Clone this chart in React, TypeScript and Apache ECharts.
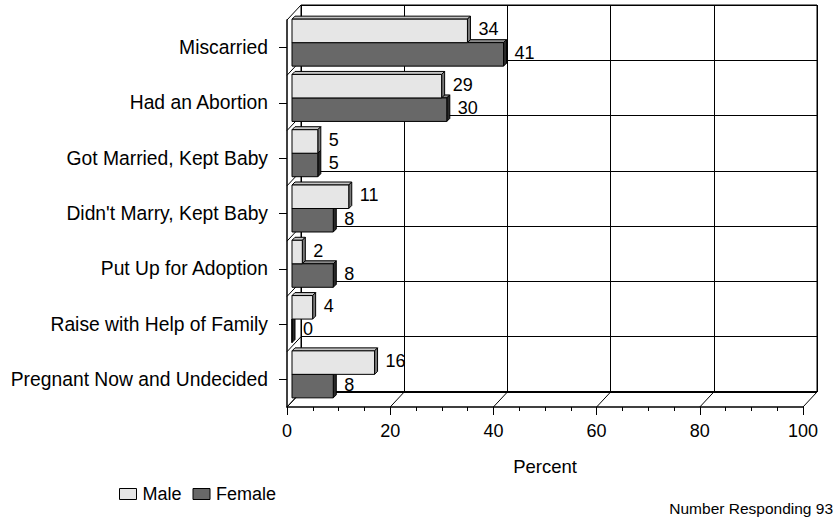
import React, { useEffect, useRef } from 'react';
import * as echarts from 'echarts';

const categories = [
  'Miscarried',
  'Had an Abortion',
  'Got Married, Kept Baby',
  "Didn't Marry, Kept Baby",
  'Put Up for Adoption',
  'Raise with Help of Family',
  'Pregnant Now and Undecided',
];
const maleValues = [34, 29, 5, 11, 2, 4, 16];
const femaleValues = [41, 30, 5, 8, 8, 0, 8];
const xTicks = [0, 20, 40, 60, 80, 100];
const seriesNames = ['Male', 'Female'];
const axisTitle = 'Percent';
const footnote = 'Number Responding 93';

const FONT = '"Liberation Sans", Arial, Helvetica, sans-serif';
const FRONT = { left: 287, top: 20, width: 516, height: 387 };
const DEPTH = { dx: 14, dy: 15 };
const BAR_SHIFT = { dx: 5, dy: 5 };
const BAR_3D = 3;

const STYLES = {
  Male: { face: '#e6e6e6', top: '#c4c4c4', side: '#7a7a7a' },
  Female: { face: '#686868', top: '#8a8a8a', side: '#2a2a2a' },
};

function makeRender(isMale: boolean, st: { face: string; top: string; side: string }) {
  return (_params: any, api: any) => {
    const v = api.value(0);
    const idx = api.value(1);
    const start = api.coord([0, idx]);
    const end = api.coord([v, idx]);
    const band = api.size([0, 1])[1];
    const h = band * 0.425;
    const cy = start[1];
    const y0 = isMale ? cy - h : cy;
    const x0 = start[0];
    const x1 = end[0];
    const d = BAR_3D;
    const stroke = { stroke: '#000', lineWidth: 1 };
    return {
      type: 'group',
      children: [
        {
          type: 'polygon',
          shape: { points: [[x0, y0], [x0 + d, y0 - d], [x1 + d, y0 - d], [x1, y0]] },
          style: { fill: st.top, ...stroke },
        },
        {
          type: 'polygon',
          shape: { points: [[x1, y0], [x1 + d, y0 - d], [x1 + d, y0 + h - d], [x1, y0 + h]] },
          style: { fill: st.side, ...stroke },
        },
        {
          type: 'rect',
          shape: { x: x0, y: y0, width: x1 - x0, height: h },
          style: { fill: st.face, ...stroke },
        },
        {
          type: 'text',
          style: {
            text: String(v),
            x: x1 + d + 8,
            y: y0 + h / 2 - 1.5,
            verticalAlign: 'middle',
            align: 'left',
            fontSize: 18,
            fontFamily: FONT,
            fill: '#000',
          },
        },
      ],
    };
  };
}

export default function App() {
  const ref = useRef<HTMLDivElement>(null);
  useEffect(() => {
    if (!ref.current) return;
    const chart = echarts.init(ref.current, undefined, { renderer: 'svg' });
    const back = {
      left: FRONT.left + DEPTH.dx,
      top: FRONT.top - DEPTH.dy,
      width: FRONT.width,
      height: FRONT.height,
    };
    const barGrid = {
      left: FRONT.left + BAR_SHIFT.dx,
      top: FRONT.top - BAR_SHIFT.dy,
      width: FRONT.width,
      height: FRONT.height,
    };
    const option: any = {
      animation: false,
      backgroundColor: '#fff',
      textStyle: { fontFamily: FONT },
      grid: [
        { ...back, show: true, borderColor: '#000', borderWidth: 1, backgroundColor: 'transparent' },
        { ...FRONT },
        { ...barGrid },
      ],
      legend: {
        data: seriesNames,
        left: 119,
        top: 485,
        padding: 0,
        icon: 'rect',
        itemWidth: 17,
        itemHeight: 11,
        itemGap: 11,
        itemStyle: { borderColor: '#000', borderWidth: 1 },
        textStyle: { fontSize: 18, color: '#000', fontFamily: FONT, padding: [0, 0, 0, 1] },
      },
      xAxis: [
        {
          gridIndex: 0, type: 'value', min: 0, max: 100, interval: 20,
          axisLine: { show: false }, axisTick: { show: false }, axisLabel: { show: false },
          splitLine: { show: true, lineStyle: { color: '#000', width: 1 } },
        },
        {
          gridIndex: 1, type: 'value', min: 0, max: 100, interval: 20,
          name: axisTitle, nameLocation: 'middle', nameGap: 50,
          nameTextStyle: { fontSize: 18.5, color: '#000', fontFamily: FONT },
          axisLine: { show: true, lineStyle: { color: '#000', width: 1.5 } },
          axisTick: { show: true, length: 8, lineStyle: { color: '#000' } },
          minorTick: { show: true, splitNumber: 4, length: 4, lineStyle: { color: '#000' } },
          axisLabel: { fontSize: 18, color: '#000', margin: 15, fontFamily: FONT },
          splitLine: { show: false },
        },
        {
          gridIndex: 2, type: 'value', min: 0, max: 100, show: false,
        },
      ],
      yAxis: [
        {
          gridIndex: 0, type: 'category', data: categories, inverse: true,
          axisLine: { show: false }, axisTick: { show: false }, axisLabel: { show: false },
          splitLine: { show: true, lineStyle: { color: '#000', width: 1 } },
        },
        {
          gridIndex: 1, type: 'category', data: categories, inverse: true,
          axisLine: { show: true, lineStyle: { color: '#000', width: 1.5 } },
          axisTick: { show: true, alignWithLabel: true, length: 8, lineStyle: { color: '#000' } },
          axisLabel: { fontSize: 19.3, color: '#000', margin: 19, fontFamily: FONT },
          splitLine: { show: false },
        },
        {
          gridIndex: 2, type: 'category', data: categories, inverse: true, show: false,
        },
      ],
      series: [
        {
          name: 'Female', type: 'custom', xAxisIndex: 2, yAxisIndex: 2, z: 3,
          itemStyle: { color: STYLES.Female.face, borderColor: '#000' },
          renderItem: makeRender(false, STYLES.Female),
          encode: { x: 0, y: 1 },
          data: femaleValues.map((v, i) => [v, i]),
        },
        {
          name: 'Male', type: 'custom', xAxisIndex: 2, yAxisIndex: 2, z: 4,
          itemStyle: { color: STYLES.Male.face, borderColor: '#000' },
          renderItem: makeRender(true, STYLES.Male),
          encode: { x: 0, y: 1 },
          data: maleValues.map((v, i) => [v, i]),
        },
      ],
    };
    chart.setOption(option);

    const frontBottom = FRONT.top + FRONT.height;
    const lineStyle = { stroke: '#000', lineWidth: 1 };
    const elements: any[] = [];
    xTicks.forEach((v) => {
      const x = chart.convertToPixel({ xAxisIndex: 1 }, v) as number;
      elements.push({
        type: 'line', z: 1, silent: true,
        shape: { x1: x, y1: frontBottom, x2: x + DEPTH.dx, y2: frontBottom - DEPTH.dy },
        style: lineStyle,
      });
    });
    const n = categories.length;
    for (let i = 0; i <= n; i++) {
      const y = FRONT.top + (i * FRONT.height) / n;
      elements.push({
        type: 'line', z: 1, silent: true,
        shape: { x1: FRONT.left, y1: y, x2: FRONT.left + DEPTH.dx, y2: y - DEPTH.dy },
        style: lineStyle,
      });
    }
    elements.push({
      type: 'line', z: 1, silent: true,
      shape: { x1: back.left, y1: back.top + back.height, x2: back.left + back.width, y2: back.top + back.height },
      style: { stroke: '#000', lineWidth: 2 },
    });
    elements.push({
      type: 'text', right: 5, top: 500,
      style: { text: footnote, fontSize: 15.5, fontFamily: FONT, fill: '#000' },
    });
    chart.setOption({ graphic: { elements } });

    return () => chart.dispose();
  }, []);
  return <div ref={ref} style={{ position: 'fixed', left: 0, top: 0, width: 838, height: 518 }} />;
}
